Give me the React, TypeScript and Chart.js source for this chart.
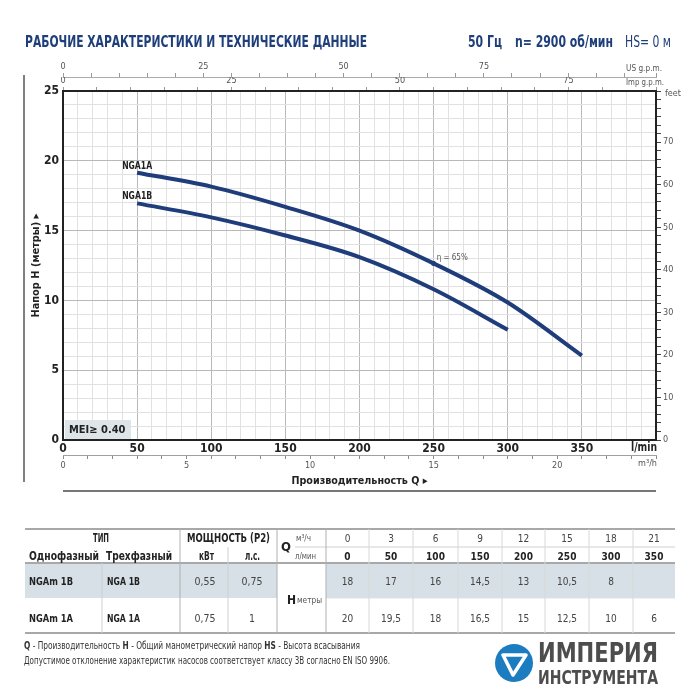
import React, { useEffect, useRef } from 'react';
import { Chart, registerables } from 'chart.js';
Chart.register(...registerables);

const FONT = "'Liberation Sans Narrow','DejaVu Sans Condensed','Arial Narrow','Liberation Sans',sans-serif";
const BLUE = '#1f3c7b';
const TITLE_BLUE = '#1f3f7a';

// ---- curve data (Q in l/min, H in m) ----
const flow1A = [50, 100, 150, 200, 250, 300, 350];
const head1A = [19.15, 18.15, 16.7, 15.0, 12.65, 9.85, 6.05];
const flow1B = [50, 100, 150, 200, 250, 300];
const head1B = [16.95, 15.95, 14.65, 13.1, 10.8, 7.9];
const curveNames = ['NGA1A', 'NGA1B'];
const effFlow = [250];
const effHead = [12.65];
const effLabel = 'η = 65%';

// ---- axes ----
const Q_MAX = 400; // l/min
const H_MAX = 25; // m
const US_GAL = 3.78541;
const IMP_GAL = 4.54609;
const FT_PER_M = 3.28084;

// ---- table data ----
const tableQm3h = ['0', '3', '6', '9', '12', '15', '18', '21'];
const tableQlmin = ['0', '50', '100', '150', '200', '250', '300', '350'];
const rowB = { single: 'NGAm 1B', three: 'NGA 1B', kw: '0,55', hp: '0,75', h: ['18', '17', '16', '14,5', '13', '10,5', '8', ''] };
const rowA = { single: 'NGAm 1A', three: 'NGA 1A', kw: '0,75', hp: '1', h: ['20', '19,5', '18', '16,5', '15', '12,5', '10', '6'] };
const valueColEdges = [326, 369, 413, 458, 502, 545, 589, 633, 675];

const decor = {
  id: 'decor',
  beforeDatasetsDraw(chart: any) {
    const { ctx, chartArea: a } = chart;
    ctx.save();
    ctx.font = `bold 11px ${FONT}`;
    const t = 'MEI≥ 0.40';
    ctx.fillStyle = '#dde5e9';
    ctx.fillRect(a.left + 2, a.bottom - 20, 66, 19);
    ctx.fillStyle = '#222';
    ctx.textBaseline = 'middle';
    ctx.fillText(t, a.left + 6, a.bottom - 10, 58);
    ctx.restore();
  },
  afterDatasetsDraw(chart: any) {
    const { ctx } = chart;
    ctx.save();
    ctx.font = `bold 10px ${FONT}`;
    ctx.fillStyle = '#222';
    ctx.textAlign = 'center';
    ctx.textBaseline = 'alphabetic';
    [0, 1].forEach((i) => {
      const p = chart.getDatasetMeta(i).data[0];
      ctx.fillText(curveNames[i], p.x, p.y - 4, 30);
    });
    const e = chart.getDatasetMeta(2).data[0];
    ctx.font = `8px ${FONT}`;
    ctx.fillStyle = '#555';
    ctx.textAlign = 'left';
    ctx.textBaseline = 'middle';
    ctx.fillText(effLabel, e.x + 3, e.y - 5);
    ctx.restore();
  },
  afterDraw(chart: any) {
    const { ctx, chartArea: a, scales } = chart;
    ctx.save();
    ctx.fillStyle = '#555';
    ctx.font = `9px ${FONT}`;
    ctx.textAlign = 'right';
    ctx.textBaseline = 'middle';
    ctx.fillText('US g.p.m.', a.right + 6, scales.us.top + 7, 36);
    ctx.fillText('Imp g.p.m.', a.right + 8, scales.imp.top + 6, 38);
    ctx.textAlign = 'left';
    ctx.fillText('feet', a.right + 9, a.top + 3);
    ctx.textAlign = 'right';
    ctx.fillText('m³/h', a.right + 1, scales.m3h.top + 9);
    ctx.font = `bold 12px ${FONT}`;
    ctx.fillStyle = '#222';
    ctx.textBaseline = 'top';
    ctx.fillText('l/min', a.right + 1, a.bottom + 2, 26);
    ctx.font = `bold 11px ${FONT}`;
    ctx.fillStyle = '#222';
    ctx.translate(36, (a.top + a.bottom) / 2);
    ctx.rotate(-Math.PI / 2);
    ctx.textAlign = 'center';
    ctx.textBaseline = 'middle';
    ctx.fillText('Напор H (метры) ▸', 0, 0, 104);
    ctx.setTransform(1, 0, 0, 1, 0, 0);
    ctx.fillText('Производительность Q ▸', (a.left + a.right) / 2, 481, 136);
    ctx.strokeStyle = '#555';
    ctx.lineWidth = 1.5;
    ctx.beginPath();
    ctx.moveTo(24, 75);
    ctx.lineTo(24, 482);
    ctx.stroke();
    ctx.strokeStyle = '#777';
    ctx.lineWidth = 2;
    ctx.beginPath();
    ctx.moveTo(a.left, 491);
    ctx.lineTo(a.right, 491);
    ctx.stroke();
    ctx.restore();
  },
};

type TProps = { x: number; y: number; s: number; b?: boolean; c?: string; a?: 'start' | 'middle' | 'end'; tl?: number; children: React.ReactNode };
function T({ x, y, s, b, c, a, tl, children }: TProps) {
  return (
    <text
      x={x}
      y={y}
      fontSize={s}
      fill={c || (b ? '#222' : '#444')}
      textAnchor={a || 'start'}
      textLength={tl}
      lengthAdjust={tl ? 'spacingAndGlyphs' : undefined}
      style={{ fontFamily: FONT, fontWeight: b ? 700 : 400 }}
    >
      {children}
    </text>
  );
}

function TableSvg() {
  const cx = (i: number) => (valueColEdges[i] + valueColEdges[i + 1]) / 2;
  return (
    <g>
      <rect x={25} y={564} width={252} height={34} fill="#d6e0e6" />
      <rect x={326} y={564} width={349} height={34} fill="#d6e0e6" />
      <line x1={25} x2={675} y1={529} y2={529} stroke="#a8a8a8" strokeWidth={2} />
      <line x1={295} x2={675} y1={547} y2={547} stroke="#d0d0d0" strokeWidth={1} />
      <line x1={25} x2={675} y1={563} y2={563} stroke="#a8a8a8" strokeWidth={2} />
      <line x1={326} x2={675} y1={598} y2={598} stroke="#e2e2e2" strokeWidth={1} />
      <line x1={25} x2={675} y1={633} y2={633} stroke="#a8a8a8" strokeWidth={2} />
      {[180, 277, 326].map((x) => (
        <line key={x} x1={x} x2={x} y1={529} y2={633} stroke="#b0b0b0" strokeWidth={1} />
      ))}
      <line x1={228} x2={228} y1={547} y2={633} stroke="#cfcfcf" strokeWidth={1} />
      <line x1={102} x2={102} y1={563} y2={633} stroke="#cfcfcf" strokeWidth={1} />
      {valueColEdges.slice(1, -1).map((x) => (
        <line key={x} x1={x} x2={x} y1={529} y2={633} stroke="#d8d8d8" strokeWidth={1} />
      ))}
      <T x={93} y={542} s={11.5} b tl={16}>ТИП</T>
      <T x={187} y={542} s={11.5} b tl={83}>МОЩНОСТЬ (Р2)</T>
      <T x={29} y={560} s={11.5} b tl={70}>Однофазный</T>
      <T x={106} y={560} s={11.5} b tl={66}>Трехфазный</T>
      <T x={199} y={560} s={11.5} b tl={15}>кВт</T>
      <T x={245} y={560} s={11.5} b tl={15}>л.с.</T>
      <T x={286} y={551} s={13} b a="middle">Q</T>
      <T x={296} y={541} s={8.5} c="#555" tl={15}>м³/ч</T>
      <T x={295} y={559} s={8.5} c="#555" tl={21}>л/мин</T>
      {tableQm3h.map((t, i) => (
        <T key={'a' + i} x={cx(i)} y={542} s={10} a="middle">{t}</T>
      ))}
      {tableQlmin.map((t, i) => (
        <T key={'b' + i} x={cx(i)} y={560} s={10} b a="middle">{t}</T>
      ))}
      {[rowB, rowA].map((r, k) => {
        const y = k === 0 ? 585 : 622;
        return (
          <g key={r.single}>
            <T x={29} y={y} s={11} b tl={44}>{r.single}</T>
            <T x={107} y={y} s={11} b tl={33}>{r.three}</T>
            <T x={205} y={y} s={10.5} a="middle">{r.kw}</T>
            <T x={252} y={y} s={10.5} a="middle">{r.hp}</T>
            {r.h.map((t, i) => (
              <T key={i} x={cx(i)} y={y} s={10} a="middle">{t}</T>
            ))}
          </g>
        );
      })}
      <T x={287} y={604} s={12} b>H</T>
      <T x={297} y={603} s={9} c="#555" tl={25}>метры</T>
    </g>
  );
}

export default function App() {
  const ref = useRef<HTMLCanvasElement>(null);
  useEffect(() => {
    const tickFont = (size: number, bold = false) => ({ family: FONT, size, weight: bold ? ('bold' as const) : ('normal' as const) });
    const chart = new Chart(ref.current as HTMLCanvasElement, {
      type: 'line',
      data: {
        datasets: [
          {
            label: curveNames[0],
            data: flow1A.map((q, i) => ({ x: q, y: head1A[i] })),
            borderColor: BLUE,
            borderWidth: 4,
            pointRadius: 0,
            cubicInterpolationMode: 'monotone',
          },
          {
            label: curveNames[1],
            data: flow1B.map((q, i) => ({ x: q, y: head1B[i] })),
            borderColor: BLUE,
            borderWidth: 4,
            pointRadius: 0,
            cubicInterpolationMode: 'monotone',
          },
          {
            label: 'eff',
            data: effFlow.map((q, i) => ({ x: q, y: effHead[i] })),
            showLine: false,
            pointRadius: 2.5,
            pointBackgroundColor: BLUE,
            pointBorderWidth: 0,
          },
        ],
      },
      options: {
        responsive: false,
        animation: false,
        devicePixelRatio: 1,
        layout: { padding: { top: 62, bottom: 25, left: 0, right: 0 } },
        plugins: { legend: { display: false }, tooltip: { enabled: false } },
        scales: {
          x: {
            type: 'linear',
            position: 'bottom',
            min: 0,
            max: Q_MAX,
            weight: 0,
            ticks: {
              stepSize: 10,
              autoSkip: false,
              maxRotation: 0,
              padding: 2,
              font: tickFont(12, true),
              color: '#222',
              callback: (v: any) => (v % 50 === 0 && v < Q_MAX ? String(v) : ''),
            },
            grid: {
              color: (c: any) => (c.tick && c.tick.value % 50 === 0 ? '#b8b8b8' : '#e1e1e1'),
              lineWidth: 1,
              drawTicks: false,
            },
            border: { color: '#222', width: 2 },
            afterFit: (s: any) => {
              s.height = 15;
            },
          },
          m3h: {
            type: 'linear',
            position: 'bottom',
            min: 0,
            max: (Q_MAX * 60) / 1000,
            weight: 1,
            ticks: {
              stepSize: 1,
              autoSkip: false,
              maxRotation: 0,
              padding: 1,
              font: tickFont(9),
              color: '#555',
              callback: (v: any) => (v % 5 === 0 ? String(v) : ''),
            },
            grid: { drawOnChartArea: false, tickLength: 4, color: '#8a8a8a' },
            border: { color: '#a0a0a0', width: 1 },
            afterFit: (s: any) => {
              s.height = 20;
            },
          },
          y: {
            type: 'linear',
            position: 'left',
            min: 0,
            max: H_MAX,
            ticks: {
              stepSize: 1,
              autoSkip: false,
              padding: 4,
              font: tickFont(12, true),
              color: '#222',
              callback: (v: any) => (v % 5 === 0 ? String(v) : ''),
            },
            grid: {
              color: (c: any) => (c.tick && c.tick.value % 5 === 0 ? '#b8b8b8' : '#e1e1e1'),
              lineWidth: 1,
              drawTicks: false,
            },
            border: { color: '#222', width: 2 },
            afterFit: (s: any) => {
              s.width = 63;
            },
          },
          feet: {
            type: 'linear',
            position: 'right',
            min: 0,
            max: H_MAX * FT_PER_M,
            ticks: {
              stepSize: 2,
              autoSkip: false,
              padding: 2,
              font: tickFont(9),
              color: '#555',
              callback: (v: any) => (v % 10 === 0 && v <= 70 ? String(v) : ''),
            },
            grid: { drawOnChartArea: false, tickLength: 5, color: '#444' },
            border: { color: '#222', width: 2 },
            afterFit: (s: any) => {
              s.width = 44;
            },
          },
          us: {
            type: 'linear',
            position: 'top',
            min: 0,
            max: Q_MAX / US_GAL,
            weight: 2,
            ticks: {
              stepSize: 5,
              autoSkip: false,
              maxRotation: 0,
              padding: 1,
              font: tickFont(9),
              color: '#555',
              callback: (v: any) => (v % 25 === 0 && v < 100 ? String(v) : ''),
            },
            grid: { drawOnChartArea: false, tickLength: 4, color: '#999' },
            border: { color: '#aaa', width: 1 },
            afterFit: (s: any) => {
              s.height = 15;
            },
          },
          imp: {
            type: 'linear',
            position: 'top',
            min: 0,
            max: Q_MAX / IMP_GAL,
            weight: 1,
            ticks: {
              stepSize: 5,
              autoSkip: false,
              maxRotation: 0,
              padding: 1,
              font: tickFont(9),
              color: '#555',
              callback: (v: any) => (v % 25 === 0 ? String(v) : ''),
            },
            grid: { drawOnChartArea: false, tickLength: 4, color: '#999' },
            border: { color: '#222', width: 2 },
            afterFit: (s: any) => {
              s.height = 14;
            },
          },
        },
      } as any,
      plugins: [decor],
    });
    return () => chart.destroy();
  }, []);

  return (
    <div style={{ position: 'absolute', left: 0, top: 0, width: 700, height: 700, background: '#fff', overflow: 'hidden' }}>
      <canvas ref={ref} width={700} height={500} style={{ position: 'absolute', left: 0, top: 0, display: 'block' }} />
      <svg width={700} height={700} style={{ position: 'absolute', left: 0, top: 0, pointerEvents: 'none' }}>
        <text x={25} y={47} fontSize={16} fill={TITLE_BLUE} textLength={342} lengthAdjust="spacingAndGlyphs" style={{ fontFamily: FONT, fontWeight: 700 }}>
          РАБОЧИЕ ХАРАКТЕРИСТИКИ И ТЕХНИЧЕСКИЕ ДАННЫЕ
        </text>
        <text x={468} y={47} fontSize={16} fill={TITLE_BLUE} textLength={34} lengthAdjust="spacingAndGlyphs" style={{ fontFamily: FONT, fontWeight: 700 }}>50 Гц</text>
        <text x={515} y={47} fontSize={16} fill={TITLE_BLUE} textLength={98} lengthAdjust="spacingAndGlyphs" style={{ fontFamily: FONT, fontWeight: 700 }}>n= 2900 об/мин</text>
        <text x={625} y={47} fontSize={16} fill={TITLE_BLUE} textLength={46} lengthAdjust="spacingAndGlyphs" style={{ fontFamily: FONT, fontWeight: 400 }}>HS= 0 м</text>
        <TableSvg />
        <text x={24} y={649} fontSize={10} fill="#333" textLength={336} lengthAdjust="spacingAndGlyphs" style={{ fontFamily: FONT }}>
          <tspan fontWeight={700}>Q</tspan> - Производительность  <tspan fontWeight={700}>H</tspan> - Общий манометрический напор  <tspan fontWeight={700}>HS</tspan> - Высота всасывания
        </text>
        <text x={24} y={664} fontSize={10} fill="#333" textLength={366} lengthAdjust="spacingAndGlyphs" style={{ fontFamily: FONT }}>
          Допустимое отклонение характеристик насосов соответствует классу 3B согласно EN ISO 9906.
        </text>
        <circle cx={514} cy={663} r={19} fill="#1b7dc0" />
        <path d="M503 655 L526 655 L513 675 Z" fill="none" stroke="#fff" strokeWidth={3.5} strokeLinejoin="round" />
        <text x={538} y={662} fontSize={26} fill="#4d4d4d" textLength={120} lengthAdjust="spacingAndGlyphs" style={{ fontFamily: FONT, fontWeight: 700 }}>ИМПЕРИЯ</text>
        <text x={538} y={684} fontSize={19} fill="#4d4d4d" textLength={120} lengthAdjust="spacingAndGlyphs" style={{ fontFamily: FONT, fontWeight: 700 }}>ИНСТРУМЕНТА</text>
      </svg>
    </div>
  );
}
